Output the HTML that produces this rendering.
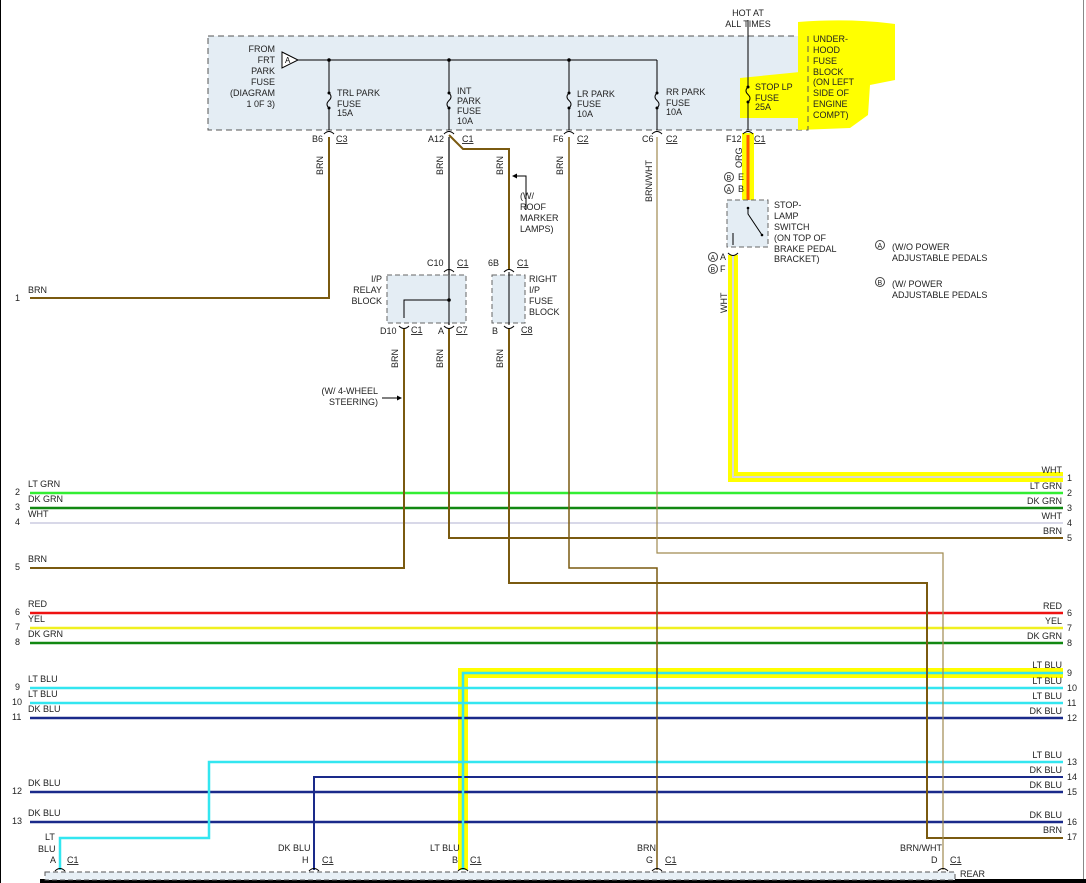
<!DOCTYPE html>
<html><head><meta charset="utf-8"><style>
html,body{margin:0;padding:0;background:#fff;}
svg{display:block;font-family:"Liberation Sans",Arial,sans-serif;font-size:9px;}
</style></head><body>
<svg width="1086" height="883" viewBox="0 0 1086 883" xmlns="http://www.w3.org/2000/svg">
<rect x="0" y="0" width="1086" height="883" fill="#fff"/>
<line x1="0.5" y1="0" x2="0.5" y2="883" stroke="#000"/>
<line x1="1083.5" y1="0" x2="1083.5" y2="883" stroke="#888"/>
<rect x="40" y="879" width="1046" height="4" fill="#000"/>

<!-- top fuse box -->
<rect x="208" y="36" width="600" height="94" fill="#e4edf4" stroke="#555" stroke-dasharray="6,4"/>
<!-- yellow highlights top -->
<path d="M798 22 Q850 18 895 24 L895 80 L870 85 L868 115 L850 128 L798 130 Z" fill="#ffff00"/>
<path d="M740 78 L800 72 L800 118 L740 118 Z" fill="#ffff00"/>
<line x1="808" y1="36" x2="808" y2="130" stroke="#555" stroke-dasharray="6,4"/>

<polygon points="282,52 298,60 282,68" fill="#fff" stroke="#000"/>
<text x="285" y="63" font-size="8">A</text>
<line x1="298" y1="60" x2="657" y2="60" stroke="#000"/>
<g fill="#000"><circle cx="329" cy="60" r="1.8"/><circle cx="449" cy="60" r="1.8"/><circle cx="569" cy="60" r="1.8"/></g>
<g stroke="#000" fill="none">
<path d="M329 60 V93 M329 108 V130 M329 93 q4 4 0 7.5 q-4 4 0 7.5"/>
<path d="M449 60 V93 M449 108 V130 M449 93 q4 4 0 7.5 q-4 4 0 7.5"/>
<path d="M569 60 V93 M569 108 V130 M569 93 q-4 4 0 7.5 q4 4 0 7.5"/>
<path d="M657 60 V93 M657 108 V130 M657 93 q-4 4 0 7.5 q4 4 0 7.5"/>
<path d="M748 20 V87 M748 102 V130 M748 87 q-4 4 0 7.5 q4 4 0 7.5"/>
</g>
<g fill="#000"><circle cx="329" cy="93" r="1.5"/><circle cx="329" cy="108" r="1.5"/><circle cx="449" cy="93" r="1.5"/><circle cx="449" cy="108" r="1.5"/><circle cx="569" cy="93" r="1.5"/><circle cx="569" cy="108" r="1.5"/><circle cx="657" cy="93" r="1.5"/><circle cx="657" cy="108" r="1.5"/><circle cx="748" cy="87" r="1.5"/><circle cx="748" cy="102" r="1.5"/></g>
<g fill="#222">
<text x="275" y="52" text-anchor="end">FROM</text><text x="275" y="63" text-anchor="end">FRT</text><text x="275" y="74" text-anchor="end">PARK</text><text x="275" y="85" text-anchor="end">FUSE</text><text x="275" y="96" text-anchor="end">(DIAGRAM</text><text x="275" y="107" text-anchor="end">1 0F 3)</text>
<text x="337" y="96">TRL PARK</text><text x="337" y="107">FUSE</text><text x="337" y="116">15A</text>
<text x="457" y="94">INT</text><text x="457" y="104">PARK</text><text x="457" y="114">FUSE</text><text x="457" y="124">10A</text>
<text x="577" y="97">LR PARK</text><text x="577" y="107">FUSE</text><text x="577" y="117">10A</text>
<text x="666" y="95">RR PARK</text><text x="666" y="106">FUSE</text><text x="666" y="115">10A</text>
<text x="755" y="90">STOP LP</text><text x="755" y="101">FUSE</text><text x="755" y="110">25A</text>
<text x="748" y="16" text-anchor="middle">HOT AT</text><text x="748" y="27" text-anchor="middle">ALL TIMES</text>
<text x="813" y="42">UNDER-</text><text x="813" y="53">HOOD</text><text x="813" y="64">FUSE</text><text x="813" y="75">BLOCK</text><text x="813" y="85">(ON LEFT</text><text x="813" y="96">SIDE OF</text><text x="813" y="107">ENGINE</text><text x="813" y="118">COMPT)</text>
</g>

<g fill="#222">
<text x="312" y="142">B6</text><text x="336" y="142" text-decoration="underline">C3</text>
<text x="428" y="142">A12</text><text x="462" y="142" text-decoration="underline">C1</text>
<text x="553" y="142">F6</text><text x="577" y="142" text-decoration="underline">C2</text>
<text x="642" y="142">C6</text><text x="666" y="142" text-decoration="underline">C2</text>
<text x="726" y="142">F12</text><text x="754" y="142" text-decoration="underline">C1</text>
</g>

<rect x="742" y="133" width="12" height="67" fill="#ffff00"/>
<path d="M733 255 V477 H1063" fill="none" stroke="#ffff00" stroke-width="10"/>
<path d="M463 870 V673 H1063" fill="none" stroke="#ffff00" stroke-width="10"/>

<g fill="none">
<path d="M733 255 V477 H1063" stroke="#d8d8d8" stroke-width="2"/>
<line x1="30" y1="493" x2="1063" y2="493" stroke="#33ee33" stroke-width="2.5"/>
<line x1="30" y1="508" x2="1063" y2="508" stroke="#118811" stroke-width="2.5"/>
<line x1="30" y1="523" x2="1063" y2="523" stroke="#d8d8e8" stroke-width="2"/>
<line x1="30" y1="613" x2="1063" y2="613" stroke="#ee1111" stroke-width="2.5"/>
<line x1="30" y1="628" x2="1063" y2="628" stroke="#f0f020" stroke-width="2.5"/>
<line x1="30" y1="643" x2="1063" y2="643" stroke="#118811" stroke-width="2.5"/>
<line x1="30" y1="688" x2="1063" y2="688" stroke="#33e6f0" stroke-width="2.5"/>
<line x1="30" y1="703" x2="1063" y2="703" stroke="#33e6f0" stroke-width="2.5"/>
<line x1="30" y1="718" x2="1063" y2="718" stroke="#1a2a8a" stroke-width="2.5"/>
<line x1="30" y1="792" x2="1063" y2="792" stroke="#1a2a8a" stroke-width="2.5"/>
<line x1="30" y1="822" x2="1063" y2="822" stroke="#1a2a8a" stroke-width="2.5"/>
<path d="M60 870 V838 H209 V762 H1063" stroke="#33e6f0" stroke-width="2.5"/>
<path d="M314 870 V777 H1063" stroke="#1a2a8a" stroke-width="2"/>
<path d="M463 870 V673 H1063" stroke="#33e6f0" stroke-width="2.5"/>
<path d="M329 137 V298 H30" stroke="#7a5a10" stroke-width="2"/>
<path d="M449 137 V325" stroke="#000" stroke-width="1.2"/>
<path d="M449 135 L463 149 H509 V270" stroke="#7a5a10" stroke-width="2"/>
<path d="M404 328 V568 H30" stroke="#7a5a10" stroke-width="2"/>
<path d="M449 328 V538 H1063" stroke="#7a5a10" stroke-width="2"/>
<path d="M509 328 V583 H927 V838 H1063" stroke="#7a5a10" stroke-width="2"/>
<path d="M569 137 V568 H657 V870" stroke="#7a5a10" stroke-width="1.5"/>
<path d="M657 137 V553 H943 V870" stroke="#a08a50" stroke-width="1.2"/>
<line x1="748" y1="135" x2="748" y2="200" stroke="#ff5a00" stroke-width="3"/>
</g>

<g fill="#222">
<text x="15" y="301">1</text><text x="28" y="293">BRN</text>
<text x="15" y="495">2</text><text x="28" y="487">LT GRN</text>
<text x="15" y="510">3</text><text x="28" y="502">DK GRN</text>
<text x="15" y="525">4</text><text x="28" y="517">WHT</text>
<text x="15" y="570">5</text><text x="28" y="562">BRN</text>
<text x="15" y="615">6</text><text x="28" y="607">RED</text>
<text x="15" y="630">7</text><text x="28" y="622">YEL</text>
<text x="15" y="645">8</text><text x="28" y="637">DK GRN</text>
<text x="15" y="690">9</text><text x="28" y="682">LT BLU</text>
<text x="12" y="705">10</text><text x="28" y="697">LT BLU</text>
<text x="12" y="720">11</text><text x="28" y="712">DK BLU</text>
<text x="12" y="794">12</text><text x="28" y="786">DK BLU</text>
<text x="12" y="824">13</text><text x="28" y="816">DK BLU</text>
</g>
<g fill="#222" text-anchor="end">
<text x="1062" y="473">WHT</text><text x="1062" y="489">LT GRN</text><text x="1062" y="504">DK GRN</text><text x="1062" y="519">WHT</text><text x="1062" y="534">BRN</text>
<text x="1062" y="609">RED</text><text x="1062" y="624">YEL</text><text x="1062" y="639">DK GRN</text>
<text x="1062" y="668">LT BLU</text><text x="1062" y="684">LT BLU</text><text x="1062" y="699">LT BLU</text><text x="1062" y="714">DK BLU</text>
<text x="1062" y="758">LT BLU</text><text x="1062" y="773">DK BLU</text><text x="1062" y="788">DK BLU</text><text x="1062" y="818">DK BLU</text><text x="1062" y="833">BRN</text>
</g>
<g fill="#222">
<text x="1067" y="481">1</text><text x="1067" y="496">2</text><text x="1067" y="511">3</text><text x="1067" y="526">4</text><text x="1067" y="541">5</text>
<text x="1067" y="616">6</text><text x="1067" y="631">7</text><text x="1067" y="646">8</text>
<text x="1067" y="676">9</text><text x="1067" y="691">10</text><text x="1067" y="706">11</text><text x="1067" y="721">12</text>
<text x="1067" y="765">13</text><text x="1067" y="780">14</text><text x="1067" y="795">15</text><text x="1067" y="825">16</text><text x="1067" y="840">17</text>
</g>

<g fill="#222">
<text transform="translate(323,175) rotate(-90)">BRN</text>
<text transform="translate(443,175) rotate(-90)">BRN</text>
<text transform="translate(503,175) rotate(-90)">BRN</text>
<text transform="translate(563,175) rotate(-90)">BRN</text>
<text transform="translate(652,202) rotate(-90)">BRN/WHT</text>
<text transform="translate(742,168) rotate(-90)">ORG</text>
<text transform="translate(727,313) rotate(-90)">WHT</text>
<text transform="translate(398,368) rotate(-90)">BRN</text>
<text transform="translate(443,368) rotate(-90)">BRN</text>
<text transform="translate(503,368) rotate(-90)">BRN</text>
</g>

<path d="M526 210 V176 H513" fill="none" stroke="#000"/>
<polygon points="512,176 517,173.5 517,178.5" fill="#000"/>
<g fill="#222"><text x="520" y="199">(W/</text><text x="520" y="210">ROOF</text><text x="520" y="221">MARKER</text><text x="520" y="232">LAMPS)</text></g>
<line x1="382" y1="398" x2="400" y2="398" stroke="#000"/>
<polygon points="402,398 397,395.5 397,400.5" fill="#000"/>
<g fill="#222"><text x="378" y="394" text-anchor="end">(W/ 4-WHEEL</text><text x="378" y="405" text-anchor="end">STEERING)</text></g>

<rect x="387" y="275" width="79" height="48" fill="#e4edf4" stroke="#666" stroke-dasharray="5,3"/>
<line x1="449" y1="272" x2="449" y2="325" stroke="#000"/>
<path d="M404 318 V300 H449" fill="none" stroke="#000"/>
<circle cx="449" cy="300" r="1.8"/>
<g fill="#222">
<text x="427" y="266">C10</text><text x="457" y="266" text-decoration="underline">C1</text>
<text x="382" y="282" text-anchor="end">I/P</text><text x="382" y="293" text-anchor="end">RELAY</text><text x="382" y="304" text-anchor="end">BLOCK</text>
<text x="380" y="334">D10</text><text x="411" y="333" text-decoration="underline">C1</text>
<text x="438" y="334">A</text><text x="456" y="333" text-decoration="underline">C7</text>
</g>
<rect x="492" y="275" width="33" height="48" fill="#e4edf4" stroke="#666" stroke-dasharray="5,3"/>
<line x1="509" y1="272" x2="509" y2="325" stroke="#000"/>
<g fill="#222">
<text x="488" y="266">6B</text><text x="517" y="266" text-decoration="underline">C1</text>
<text x="529" y="282">RIGHT</text><text x="529" y="293">I/P</text><text x="529" y="304">FUSE</text><text x="529" y="315">BLOCK</text>
<text x="492" y="334">B</text><text x="521" y="333" text-decoration="underline">C8</text>
</g>
<g fill="none" stroke="#000" stroke-width="1">
<path d="M324 134 q5 -5 10 0"/><path d="M444 134 q5 -5 10 0"/><path d="M564 134 q5 -5 10 0"/><path d="M652 134 q5 -5 10 0"/><path d="M743 134 q5 -5 10 0"/>
<path d="M444 272 q5 -5 10 0"/><path d="M504 272 q5 -5 10 0"/>
<path d="M399 326 q5 5 10 0"/><path d="M444 326 q5 5 10 0"/><path d="M504 326 q5 5 10 0"/>
<path d="M743 204 q5 -5 10 0"/><path d="M728 253 q5 5 10 0"/>
</g>

<rect x="727" y="200" width="41" height="47" fill="#e4edf4" stroke="#666" stroke-dasharray="5,3"/>
<path d="M748 208 V214 L762 235" fill="none" stroke="#000"/>
<circle cx="748" cy="208" r="1.3"/><circle cx="762" cy="235" r="1.3"/>
<line x1="733" y1="233" x2="733" y2="245" stroke="#000"/>
<g fill="#222">
<text x="774" y="208">STOP-</text><text x="774" y="219">LAMP</text><text x="774" y="230">SWITCH</text><text x="774" y="241">(ON TOP OF</text><text x="774" y="252">BRAKE PEDAL</text><text x="774" y="262">BRACKET)</text>
<text x="738" y="180">E</text><text x="738" y="192">B</text>
<text x="720" y="260">A</text><text x="720" y="272">F</text>
</g>
<g fill="none" stroke="#444"><circle cx="729" cy="177" r="4.5"/><circle cx="729" cy="189" r="4.5"/><circle cx="713" cy="257" r="4.5"/><circle cx="713" cy="269" r="4.5"/><circle cx="880" cy="245" r="4.5"/><circle cx="880" cy="282" r="4.5"/></g>
<g fill="#222" font-size="7">
<text x="726.5" y="180">B</text><text x="726.5" y="192">A</text><text x="710.5" y="260">A</text><text x="710.5" y="272">B</text><text x="877.5" y="248">A</text><text x="877.5" y="285">B</text>
</g>
<g fill="#222">
<text x="892" y="250">(W/O POWER</text><text x="892" y="261">ADJUSTABLE PEDALS</text>
<text x="892" y="287">(W/ POWER</text><text x="892" y="298">ADJUSTABLE PEDALS</text>
</g>

<rect x="45" y="872" width="910" height="8" fill="#e8f0f6" stroke="#555" stroke-dasharray="5,3"/>
<g fill="none" stroke="#000">
<path d="M55 871 q5 -5 10 0"/><path d="M309 871 q5 -5 10 0"/><path d="M458 871 q5 -5 10 0"/><path d="M652 871 q5 -5 10 0"/><path d="M938 871 q5 -5 10 0"/>
</g>
<g fill="#222">
<text x="45" y="840">LT</text><text x="38" y="852">BLU</text>
<text x="50" y="863">A</text><text x="67" y="863" text-decoration="underline">C1</text>
<text x="278" y="851">DK BLU</text><text x="302" y="863">H</text><text x="322" y="863" text-decoration="underline">C1</text>
<text x="430" y="851">LT BLU</text><text x="452" y="863">B</text><text x="470" y="863" text-decoration="underline">C1</text>
<text x="637" y="851">BRN</text><text x="646" y="863">G</text><text x="665" y="863" text-decoration="underline">C1</text>
<text x="900" y="851">BRN/WHT</text><text x="931" y="863">D</text><text x="950" y="863" text-decoration="underline">C1</text>
<text x="960" y="877">REAR</text>
</g>
</svg>
</body></html>
